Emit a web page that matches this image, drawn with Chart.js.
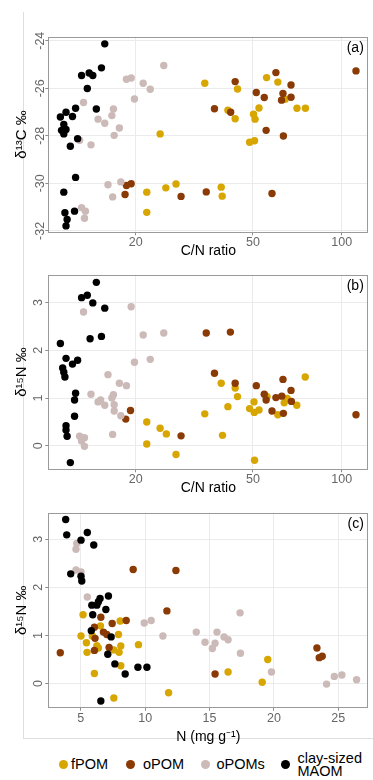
<!DOCTYPE html>
<html>
<head>
<meta charset="utf-8">
<script src="https://cdn.jsdelivr.net/npm/chart.js@4.4.0/dist/chart.umd.min.js"></script>
<style>
  html, body { margin: 0; padding: 0; background: #fff; }
  body { width: 373px; height: 780px; position: relative; overflow: hidden;
         font-family: "Liberation Sans", Arial, Helvetica, sans-serif; }
  .frame { position: absolute; left: 23px; top: 12px; width: 360px; height: 726px;
           border-left: 1px solid #dedede; border-bottom: 1px solid #dedede; }
  canvas { position: absolute; left: 0; }
  .dot { position: absolute; width: 9px; height: 9px; border-radius: 50%; top: 759.5px; }
  .lab { position: absolute; font-size: 14.5px; line-height: 16px; color: #000; top: 755.5px; white-space: nowrap; }
  .lab2 { line-height: 13.4px; top: 751.6px; }
</style>
</head>
<body>
<div class="frame"></div>
<canvas id="chart-a" width="373" height="262" style="top:0px"></canvas>
<canvas id="chart-b" width="373" height="238" style="top:262px"></canvas>
<canvas id="chart-c" width="373" height="250" style="top:500px"></canvas>

<span class="dot" style="left:58.5px; background:#D8A600"></span><span class="lab" style="left:71px">fPOM</span>
<span class="dot" style="left:125.8px; background:#8A3A05"></span><span class="lab" style="left:143px">oPOM</span>
<span class="dot" style="left:200.5px; background:#CBBAB8"></span><span class="lab" style="left:216.5px">oPOMs</span>
<span class="dot" style="left:280.5px; background:#000"></span><span class="lab lab2" style="left:297.5px">clay-sized<br>MAOM</span>

<script>
/* ---- data: panel (a) C/N ratio vs d13C ---- */
const fpomA = [[34.3,-25.79],[24.2,-27.92],[21.8,-30.37],[25.3,-30.19],[27.4,-30.03],[21.8,-31.22],[44.3,-26.03],
  [55.6,-25.55],[60.7,-25.74],[41.1,-26.92],[43.5,-27.28],[52.4,-26.83],[50.2,-27.09],[50.8,-27.30],[70.5,-26.84],
  [75.3,-26.84],[64.3,-26.46],[48.7,-28.27],[50.6,-28.21],[39.0,-30.16],[39.3,-30.54]];
const opomA = [[18.6,-30.09],[19.3,-30.02],[18.4,-30.47],[28.5,-30.55],[34.7,-30.36],[111.8,-25.27],[59.8,-25.34],
  [43.5,-25.72],[67.3,-25.86],[51.3,-26.18],[54.6,-26.39],[63.2,-26.22],[62.5,-26.50],[67.3,-26.38],[37.0,-26.86],
  [42.0,-27.01],[55.4,-27.77],[63.4,-28.01],[58.0,-30.43]];
const opomsA = [[24.9,-25.04],[18.6,-25.62],[19.3,-25.57],[21.2,-25.79],[22.4,-26.04],[19.8,-26.45],[13.3,-26.60],
  [16.8,-26.87],[16.6,-27.15],[14.9,-27.30],[15.7,-27.47],[17.6,-27.67],[16.9,-27.98],[12.9,-28.19],[14.1,-28.38],
  [16.1,-30.06],[17.8,-29.94],[16.7,-30.57],[13.1,-31.02],[13.5,-31.17],[13.4,-31.47]];
const maomA = [[15.7,-24.13],[15.3,-25.14],[13.1,-25.46],[13.9,-25.36],[14.3,-25.46],[13.7,-26.01],[12.5,-26.84],
  [14.7,-26.87],[11.6,-27.01],[11.1,-27.21],[12.2,-27.19],[11.4,-27.52],[11.2,-27.77],[11.6,-27.73],[11.4,-27.92],
  [12.7,-28.12],[12.0,-28.44],[12.5,-29.75],[11.4,-30.37],[12.4,-31.17],[11.5,-31.24],[11.7,-31.52],[11.6,-31.79]];

/* ---- data: panel (b) C/N ratio vs d15N ---- */
const fpomB = [[34.3,0.67],[21.8,0.50],[24.2,0.37],[25.4,0.25],[21.8,0.04],[27.4,-0.18],[39.0,1.31],[43.5,1.21],
  [44.3,1.03],[75.2,1.44],[41.1,0.82],[50.4,0.92],[48.7,0.78],[50.5,0.70],[52.4,0.75],[55.8,1.03],[63.8,0.90],
  [65.3,0.99],[70.4,0.85],[60.7,0.65],[39.4,0.22],[50.6,-0.30]];
const opomB = [[34.7,2.36],[19.2,0.74],[18.5,0.56],[28.5,0.21],[41.9,2.38],[37.0,1.52],[43.5,1.31],[51.3,1.26],
  [63.2,1.39],[67.3,1.16],[54.6,1.08],[55.4,0.96],[59.8,1.01],[62.6,1.04],[67.5,0.93],[58.0,0.73],[63.4,0.68],
  [111.8,0.65]];
const opomsB = [[19.3,2.91],[13.3,2.80],[21.2,2.32],[24.9,2.36],[19.8,1.75],[22.4,1.81],[16.1,1.49],[17.6,1.31],
  [18.6,1.26],[14.1,1.08],[16.8,1.07],[15.2,0.96],[14.9,0.92],[16.6,1.00],[15.7,0.85],[16.9,0.86],[16.9,0.73],
  [17.8,0.63],[16.7,0.24],[12.9,0.20],[13.4,0.17],[13.1,0.10],[13.4,-0.01]];
const maomB = [[14.7,3.42],[13.1,3.10],[13.7,3.15],[14.3,2.99],[15.7,2.88],[14.0,2.24],[15.3,2.29],[11.1,2.14],
  [11.6,1.83],[12.7,1.79],[12.2,1.71],[11.3,1.63],[11.4,1.54],[11.5,1.44],[12.5,1.10],[12.4,0.96],[12.4,0.62],
  [11.6,0.42],[11.6,0.33],[11.7,0.20],[12.0,-0.35]];

/* ---- data: panel (c) N vs d15N ---- */
const fpomC = [[5.18,1.43],[6.53,1.20],[8.06,1.30],[5.02,0.99],[5.90,0.99],[7.93,1.02],[5.44,0.85],[6.25,0.79],
  [6.37,0.74],[8.11,0.78],[9.48,0.81],[5.49,0.65],[7.57,0.70],[7.98,0.65],[8.11,0.37],[6.06,0.21],[7.57,-0.30],
  [11.82,-0.19],[16.44,0.24],[19.52,0.50],[19.09,0.03]];
const opomC = [[9.07,2.37],[12.39,2.35],[11.69,1.51],[3.41,0.64],[6.56,1.38],[7.44,1.25],[8.53,1.31],[6.06,1.17],
  [6.76,1.07],[6.11,0.94],[7.02,1.02],[7.20,0.75],[6.06,0.69],[15.43,0.20],[23.34,0.74],[23.52,0.54],[23.75,0.57]];
const opomsC = [[4.69,2.91],[4.63,2.79],[4.63,2.36],[5.02,2.32],[5.51,1.80],[9.93,1.26],[10.47,1.31],[11.38,0.99],
  [13.97,1.07],[15.58,1.07],[16.13,0.97],[16.44,0.91],[14.65,0.86],[15.43,0.84],[15.22,0.73],[17.37,1.47],
  [17.40,0.63],[19.81,0.24],[24.09,-0.01],[24.69,0.15],[25.28,0.18],[26.42,0.08]];
const maomC = [[3.83,3.41],[3.91,3.09],[5.51,3.14],[5.02,2.98],[6.01,2.88],[4.22,2.28],[5.02,2.23],[5.08,2.13],
  [7.15,1.82],[6.50,1.77],[6.37,1.70],[5.86,1.63],[6.25,1.63],[6.95,1.54],[5.93,1.43],[5.82,1.10],[7.36,0.97],
  [7.10,0.61],[7.65,0.41],[8.45,0.20],[9.44,0.34],[10.14,0.34],[6.56,-0.36]];

/* ---- tick labels ---- */
const cnTicks = [20, 50, 100];
const nTicks = [5, 10, 15, 20, 25];
const d13CTicks = [-32, -30, -28, -26, -24];
const d15NTicks = [0, 1, 2, 3];

const FONT = '"Liberation Sans", Arial, Helvetica, sans-serif';
const COLORS = { fPOM: '#D8A600', oPOM: '#8A3A05', oPOMs: '#CBBAB8', MAOM: '#000000' };
const GRID = '#ebebeb';
const TICK_COLOR = '#8c8c8c';
const LABEL_COLOR = '#666666';

function toXY(pairs) {
  return pairs.map(([x, y]) => ({ x, y }));
}

// box + (a)/(b)/(c) tag on each panel
const panelDecor = {
  id: 'panelDecor',
  afterDatasetsDraw(chart, args, opts) {
    const { ctx, chartArea: a } = chart;
    ctx.save();
    ctx.strokeStyle = '#9a9a9a';
    ctx.lineWidth = 1;
    ctx.strokeRect(Math.round(a.left) + 0.5, Math.round(a.top) + 0.5,
      Math.round(a.width) - 1, Math.round(a.height) - 1);
    ctx.fillStyle = '#000';
    ctx.font = '14px ' + FONT;
    ctx.textAlign = 'right';
    ctx.textBaseline = 'middle';
    ctx.fillText(opts.label, a.right - 4.5, a.top + 11);
    ctx.restore();
  }
};

function makeDatasets(fpom, opom, opoms, maom) {
  const ds = (label, data, order) => ({
    label, data: toXY(data), order,
    backgroundColor: COLORS[label], borderColor: COLORS[label],
    pointRadius: 3.7, pointHoverRadius: 3.7, pointBorderWidth: 0
  });
  return [ds('fPOM', fpom, 4), ds('oPOM', opom, 3), ds('oPOMs', opoms, 2), ds('MAOM', maom, 1)];
}

function renderPanel(id, p) {
  new Chart(document.getElementById(id), {
    type: 'scatter',
    data: { datasets: p.datasets },
    options: {
      responsive: false,
      animation: false,
      events: [],
      layout: { padding: { left: 0, right: 4.7, top: p.padTop, bottom: p.padBottom } },
      plugins: {
        legend: { display: false },
        tooltip: { enabled: false },
        panelDecor: { label: p.label }
      },
      scales: {
        x: {
          type: p.xType,
          min: p.xMin, max: p.xMax,
          bounds: 'data',
          afterBuildTicks: (ax) => { ax.ticks = p.xTicks.map(v => ({ value: v })); },
          afterFit: (ax) => { ax.height = p.xAxisH; },
          border: { display: false },
          grid: { color: GRID, tickColor: TICK_COLOR, tickLength: 3 },
          ticks: {
            autoSkip: false, maxRotation: 0, padding: 0, color: LABEL_COLOR,
            font: { family: FONT, size: 12.5 },
            callback: (v) => String(v)
          },
          title: {
            display: true, text: p.xTitle, color: '#000', padding: 0,
            font: { family: FONT, size: 14, lineHeight: 1.2 }
          }
        },
        y: {
          type: 'linear',
          min: p.yMin, max: p.yMax,
          bounds: 'data',
          afterBuildTicks: (ax) => { ax.ticks = p.yTicks.map(v => ({ value: v })); },
          afterFit: (ax) => { ax.width = 48.3; },
          border: { display: false },
          grid: { color: GRID, tickColor: TICK_COLOR, tickLength: 3 },
          ticks: {
            autoSkip: false, minRotation: 90, maxRotation: 90, crossAlign: 'center',
            padding: p.yTickPad, color: LABEL_COLOR,
            font: { family: FONT, size: 12.5 },
            callback: (v) => String(v)
          },
          title: {
            display: true, text: p.yTitle, color: '#000', padding: { top: 13.3, bottom: 0 },
            font: { family: FONT, size: 15, lineHeight: 1.2 }
          }
        }
      }
    },
    plugins: [panelDecor]
  });
}

renderPanel('chart-a', {
  label: '(a)',
  datasets: makeDatasets(fpomA, opomA, opomsA, maomA),
  xType: 'logarithmic', xMin: 10.1, xMax: 123.1, xTicks: cnTicks, xTitle: 'C/N ratio',
  yMin: -32.06, yMax: -23.83, yTicks: d13CTicks, yTitle: 'δ¹³C ‰',
  padTop: 36.7, padBottom: 2.8, xAxisH: 26.9, yTickPad: -4.2
});

renderPanel('chart-b', {
  label: '(b)',
  datasets: makeDatasets(fpomB, opomB, opomsB, maomB),
  xType: 'logarithmic', xMin: 10.1, xMax: 123.1, xTicks: cnTicks, xTitle: 'C/N ratio',
  yMin: -0.49, yMax: 3.58, yTicks: d15NTicks, yTitle: 'δ¹⁵N ‰',
  padTop: 12.7, padBottom: 3.3, xAxisH: 27.4, yTickPad: 3.5
});

renderPanel('chart-c', {
  label: '(c)',
  datasets: makeDatasets(fpomC, opomC, opomsC, maomC),
  xType: 'linear', xMin: 2.48, xMax: 27.33, xTicks: nTicks, xTitle: 'N (mg g⁻¹)',
  yMin: -0.50, yMax: 3.55, yTicks: d15NTicks, yTitle: 'δ¹⁵N ‰',
  padTop: 12.7, padBottom: 4.6, xAxisH: 37.7, yTickPad: 3.5
});
</script>
</body>
</html>
